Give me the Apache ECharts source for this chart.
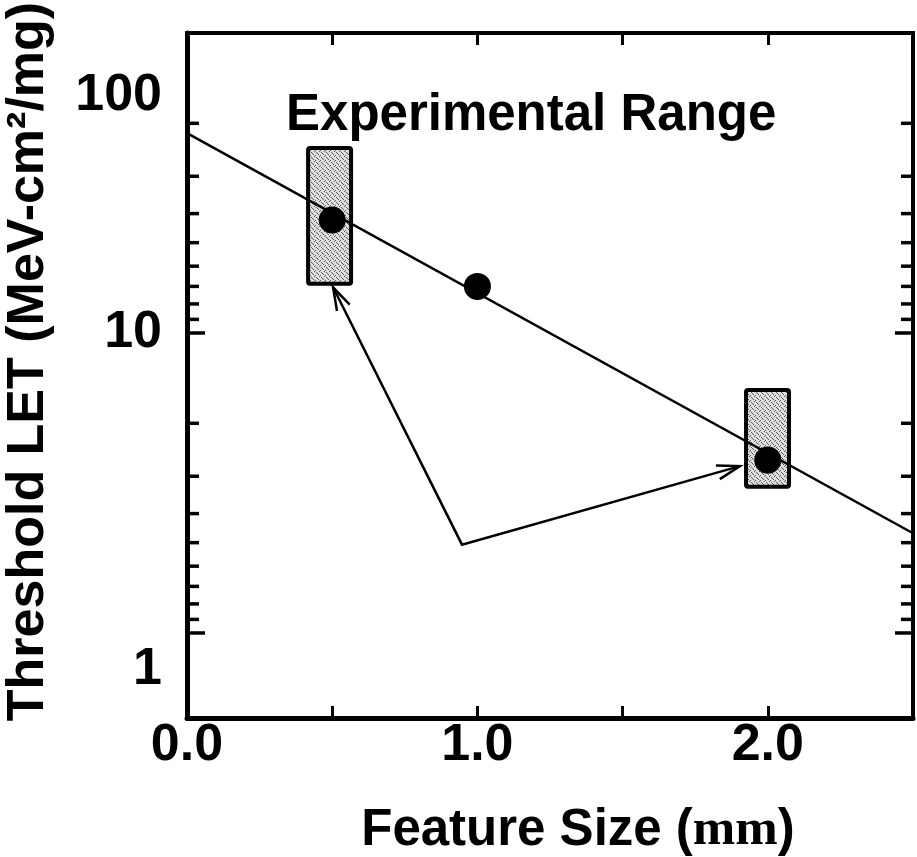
<!DOCTYPE html>
<html>
<head>
<meta charset="utf-8">
<script src="https://cdn.jsdelivr.net/npm/echarts@6/dist/echarts.min.js"></script>
<style>
  html, body { margin: 0; padding: 0; background: #fff; }
  #chart { width: 917px; height: 857px; }
</style>
</head>
<body>
<div id="chart"></div>
<script>
// Measured threshold LET for each feature size (µm)
const featureSize = [0.5, 1.0, 2.0];
const thresholdLET = [23.8, 14.3, 3.77];

// Fitted trend line (end points across the x range)
const fitX = [0, 2.5];
const fitLET = [46.4, 2.15];

// Experimental ranges: centre size, half width, low and high LET
const rangeCenter = [0.491, 1.999];
const rangeHalfWidth = [0.074, 0.074];
const rangeLow = [14.6, 3.07];
const rangeHigh = [41.4, 6.46];

// Arrow path joining the two experimental ranges
const arrowX = [0.503, 0.947, 1.904];
const arrowLET = [14.2, 1.97, 3.6];

// Axis tick labels and tick values
const xTickLabels = ['0.0', '1.0', '2.0'];
const yTickLabels = ['1', '10', '100'];
const yMajorTicks = [1, 10];
const yMinorTicks = [50, 33.3, 25, 20, 16.7, 14.3, 12.5, 11.1,
                     5, 3.33, 2.5, 2, 1.67, 1.43, 1.25, 1.11];

const SANS = '"Liberation Sans", Arial, sans-serif';
const SERIF = '"Liberation Serif", "Times New Roman", serif';

// Stipple texture for the range boxes
const tex = document.createElement('canvas');
tex.width = 5; tex.height = 5;
const tg = tex.getContext('2d');
tg.fillStyle = '#dedede';
tg.fillRect(0, 0, 5, 5);
tg.fillStyle = '#5a5a5a';
[[0, 0], [2, 3], [4, 1], [1, 2], [3, 4]].forEach(([a, b]) => tg.fillRect(a, b, 1, 1));
const stipple = { image: tex, repeat: 'repeat' };

const chart = echarts.init(document.getElementById('chart'), null, { renderer: 'canvas' });

function arrowHead(tip, from, len, ang) {
  const t = Math.atan2(tip[1] - from[1], tip[0] - from[0]);
  return [
    [tip[0] - len * Math.cos(t - ang), tip[1] - len * Math.sin(t - ang)],
    tip,
    [tip[0] - len * Math.cos(t + ang), tip[1] - len * Math.sin(t + ang)]
  ];
}

const option = {
  animation: false,
  backgroundColor: '#fff',
  grid: {
    left: 187, right: 4, top: 33, bottom: 139,
    outerBoundsMode: 'none', containLabel: false,
    show: true, borderColor: '#000', borderWidth: 4
  },
  xAxis: [{
    type: 'value', min: 0, max: 2.5, interval: 0.5,
    position: 'bottom',
    axisLine: { show: true, onZero: false, lineStyle: { color: '#000', width: 5 } },
    axisTick: { show: true, inside: true, length: 12, lineStyle: { color: '#000', width: 3 } },
    splitLine: { show: false },
    axisLabel: {
      margin: 2,
      color: '#000', fontFamily: SANS, fontWeight: 'bold', fontSize: 52,
      formatter: v => {
        const r = Math.round(v);
        return Math.abs(v - r) < 1e-6 && r < xTickLabels.length ? xTickLabels[r] : '';
      }
    },
    name: '{a|Feature Size (}{b|mm}{a|)}',
    nameLocation: 'middle',
    nameGap: 87,
    nameTextStyle: {
      padding: [0, 0, 0, 56],
      rich: {
        a: { fontFamily: SANS, fontWeight: 'bold', fontSize: 51, color: '#000' },
        b: { fontFamily: SERIF, fontWeight: 'bold', fontSize: 51, color: '#000' }
      }
    }
  }, {
    type: 'value', min: 0, max: 2.5, interval: 0.5,
    position: 'top',
    axisLine: { show: true, onZero: false, lineStyle: { color: '#000', width: 4 } },
    axisTick: { show: true, inside: true, length: 12, lineStyle: { color: '#000', width: 3 } },
    axisLabel: { show: false },
    splitLine: { show: false }
  }],
  yAxis: {
    type: 'log', logBase: 10, min: 0.5207, max: 100, splitNumber: 3,
    axisLine: { show: true, onZero: false, lineStyle: { color: '#000', width: 5 } },
    axisTick: { show: false },
    splitLine: { show: false },
    axisLabel: {
      margin: 25,
      color: '#000', fontFamily: SANS, fontWeight: 'bold', fontSize: 52,
      formatter: v => {
        const lg = Math.log10(v);
        const e = Math.round(lg);
        if (Math.abs(lg - e) > 1e-6 || e < 0 || e > 2) return '';
        return '{d' + e + '|' + yTickLabels[e] + '}';
      },
      rich: {
        d0: { fontFamily: SANS, fontWeight: 'bold', fontSize: 52, color: '#000', padding: [74, 0, 0, 0] },
        d1: { fontFamily: SANS, fontWeight: 'bold', fontSize: 52, color: '#000' },
        d2: { fontFamily: SANS, fontWeight: 'bold', fontSize: 52, color: '#000', padding: [126, 0, 0, 0] }
      }
    },
    name: 'Threshold LET (MeV-cm²/mg)',
    nameLocation: 'middle',
    nameGap: 132,
    nameTextStyle: {
      fontFamily: SANS, fontWeight: 'bold', fontSize: 52, color: '#000',
      padding: [0, 0, 0, 28]
    }
  },
  graphic: [{
    type: 'text', left: 286, top: 90, z: 10,
    style: { text: 'Experimental Range', font: 'bold 51px ' + SANS, fill: '#000' }
  }],
  series: [
    {
      // experimental range boxes
      type: 'custom', z: 2,
      data: rangeCenter.map((c, i) => [c, rangeLow[i], rangeHigh[i], rangeHalfWidth[i]]),
      renderItem: (params, api) => {
        const c = api.value(0), hw = api.value(3);
        const p1 = api.coord([c - hw, api.value(2)]);
        const p2 = api.coord([c + hw, api.value(1)]);
        return {
          type: 'rect',
          shape: { x: p1[0], y: p1[1], width: p2[0] - p1[0], height: p2[1] - p1[1], r: 2 },
          style: { fill: stipple, stroke: '#000', lineWidth: 4 }
        };
      }
    },
    {
      // fitted trend
      type: 'line', z: 3, symbol: 'none',
      data: fitX.map((x, i) => [x, fitLET[i]]),
      lineStyle: { color: '#000', width: 2.5 }
    },
    {
      // arrow path with open heads at both ends
      type: 'custom', z: 3,
      data: arrowX.map((x, i) => [x, arrowLET[i]]),
      renderItem: (params, api) => {
        if (params.dataIndex !== 0) return null;
        const pts = arrowX.map((x, i) => api.coord([x, arrowLET[i]]));
        const n = pts.length;
        const st = { stroke: '#000', lineWidth: 2.5, fill: null };
        return {
          type: 'group',
          children: [
            { type: 'polyline', shape: { points: pts }, style: st },
            { type: 'polyline', shape: { points: arrowHead(pts[0], pts[1], 24, 0.3) }, style: st },
            { type: 'polyline', shape: { points: arrowHead(pts[n - 1], pts[n - 2], 24, 0.3) }, style: st }
          ]
        };
      }
    },
    {
      // data points
      type: 'scatter', z: 4, symbol: 'circle', symbolSize: 27,
      data: featureSize.map((x, i) => [x, thresholdLET[i]]),
      itemStyle: { color: '#000', opacity: 1 }
    },
    {
      // log ticks on the left and right frame
      type: 'custom', z: 5, clip: false,
      data: yMinorTicks.map(v => [0, v, 0]).concat(yMajorTicks.map(v => [0, v, 1])),
      renderItem: (params, api) => {
        const cs = params.coordSys;
        const y = api.coord([0, api.value(1)])[1];
        const len = api.value(2) ? 18 : 12;
        const st = { stroke: '#000', lineWidth: 3.5 };
        return {
          type: 'group',
          children: [
            { type: 'line', shape: { x1: cs.x, y1: y, x2: cs.x + len, y2: y }, style: st },
            { type: 'line', shape: { x1: cs.x + cs.width, y1: y, x2: cs.x + cs.width - len, y2: y }, style: st }
          ]
        };
      }
    }
  ]
};

chart.setOption(option);
</script>
</body>
</html>
